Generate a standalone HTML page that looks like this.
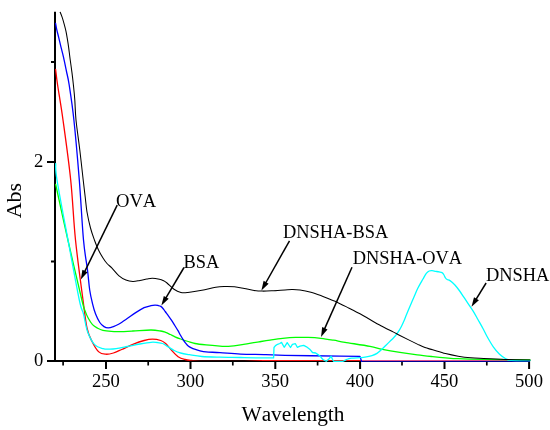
<!DOCTYPE html>
<html><head><meta charset="utf-8"><style>
html,body{margin:0;padding:0;background:#fff;width:550px;height:430px;overflow:hidden;font-family:"Liberation Serif",serif;}
svg{display:block;}
svg{will-change:transform}
text{font-kerning:none}
</style></head><body>
<svg width="550" height="430" viewBox="0 0 550 430">
<rect width="550" height="430" fill="#fff"/>
<g stroke="#000" stroke-width="2" fill="none">
<line x1="55" y1="11.7" x2="55" y2="362"/>
<line x1="47" y1="361" x2="530" y2="361"/>
<line x1="47" y1="162" x2="55" y2="162"/>
<line x1="51" y1="261.5" x2="55" y2="261.5"/>
<line x1="51" y1="62" x2="55" y2="62"/>
<line x1="106.0" y1="360" x2="106.0" y2="369"/>
<line x1="190.5" y1="360" x2="190.5" y2="369"/>
<line x1="275.3" y1="360" x2="275.3" y2="369"/>
<line x1="360.1" y1="360" x2="360.1" y2="369"/>
<line x1="444.5" y1="360" x2="444.5" y2="369"/>
<line x1="529.1" y1="360" x2="529.1" y2="369"/>
<line x1="63.1" y1="360" x2="63.1" y2="365.5" stroke-width="1.7"/>
<line x1="148.2" y1="360" x2="148.2" y2="365.5" stroke-width="1.7"/>
<line x1="232.8" y1="360" x2="232.8" y2="365.5" stroke-width="1.7"/>
<line x1="317.6" y1="360" x2="317.6" y2="365.5" stroke-width="1.7"/>
<line x1="402" y1="360" x2="402" y2="365.5" stroke-width="1.7"/>
<line x1="486.8" y1="360" x2="486.8" y2="365.5" stroke-width="1.7"/>
</g>
<g fill="none" stroke-linejoin="round" stroke-linecap="round">
<path d="M55.60,69.30 C55.93,71.92 56.37,76.55 57.60,85.00 C58.83,93.45 60.82,104.17 63.00,120.00 C65.18,135.83 68.62,160.00 70.70,180.00 C72.78,200.00 73.45,220.00 75.50,240.00 C77.55,260.00 81.08,285.33 83.00,300.00 C84.92,314.67 85.52,321.13 87.00,328.00 C88.48,334.87 89.93,337.22 91.90,341.20 C93.87,345.18 96.48,349.73 98.80,351.90 C101.12,354.07 103.37,354.02 105.80,354.20 C108.23,354.38 110.75,353.78 113.40,353.00 C116.05,352.22 118.45,350.93 121.70,349.50 C124.95,348.07 129.17,345.90 132.90,344.40 C136.63,342.90 140.85,341.38 144.10,340.50 C147.35,339.62 149.62,339.10 152.40,339.10 C155.18,339.10 158.60,339.77 160.80,340.50 C163.00,341.23 163.87,341.95 165.60,343.50 C167.33,345.05 169.12,347.60 171.20,349.80 C173.28,352.00 175.78,355.08 178.10,356.70 C180.42,358.32 182.77,358.88 185.10,359.50 C187.43,360.12 190.93,360.25 192.10,360.40" stroke="#ff0000" stroke-width="1.3"/>
<defs><linearGradient id="rg" x1="0" x2="1"><stop offset="0" stop-color="#b00000"/><stop offset="0.14" stop-color="#300000"/><stop offset="0.75" stop-color="#200000"/><stop offset="1" stop-color="#f00000"/></linearGradient></defs>
<rect x="190" y="360" width="72" height="1" fill="url(#rg)" stroke="none"/>
<rect x="262" y="360" width="99" height="1" fill="#f51010" stroke="none"/>
<rect x="361" y="360" width="169" height="1" fill="#e0508c" stroke="none"/>
<rect x="361" y="361" width="169" height="1" fill="#000096" stroke="none"/>
<path d="M55.70,184.50 C57.73,193.75 63.52,220.67 67.90,240.00 C72.28,259.33 79.13,288.68 82.00,300.50 C84.87,312.32 84.05,307.93 85.10,310.90 C86.15,313.87 87.07,316.02 88.30,318.30 C89.53,320.58 90.93,322.95 92.50,324.60 C94.07,326.25 95.97,327.25 97.70,328.20 C99.43,329.15 100.63,329.77 102.90,330.30 C105.17,330.83 108.62,331.18 111.30,331.40 C113.98,331.62 115.40,331.67 119.00,331.60 C122.60,331.53 127.57,331.27 132.90,331.00 C138.23,330.73 146.35,330.00 151.00,330.00 C155.65,330.00 158.37,330.62 160.80,331.00 C163.23,331.38 164.02,331.72 165.60,332.30 C167.18,332.88 168.73,333.75 170.30,334.50 C171.87,335.25 173.28,336.05 175.00,336.80 C176.72,337.55 178.40,338.22 180.60,339.00 C182.80,339.78 185.80,340.75 188.20,341.50 C190.60,342.25 192.03,342.93 195.00,343.50 C197.97,344.07 201.83,344.47 206.00,344.90 C210.17,345.33 216.60,345.85 220.00,346.10 C223.40,346.35 223.52,346.53 226.40,346.40 C229.28,346.27 233.67,345.77 237.30,345.30 C240.93,344.83 244.57,344.18 248.20,343.60 C251.83,343.02 255.47,342.38 259.10,341.80 C262.73,341.22 266.07,340.67 270.00,340.10 C273.93,339.53 278.45,338.85 282.70,338.40 C286.95,337.95 291.25,337.57 295.50,337.40 C299.75,337.23 303.97,337.25 308.20,337.40 C312.43,337.55 316.67,337.83 320.90,338.30 C325.13,338.77 329.58,339.53 333.60,340.20 C337.62,340.87 338.93,341.27 345.00,342.30 C351.07,343.33 363.77,345.23 370.00,346.40 C376.23,347.57 377.42,348.30 382.40,349.30 C387.38,350.30 394.08,351.47 399.90,352.40 C405.72,353.33 411.83,354.20 417.30,354.90 C422.77,355.60 428.00,356.12 432.70,356.60 C437.40,357.08 441.25,357.45 445.50,357.80 C449.75,358.15 451.85,358.43 458.20,358.70 C464.55,358.97 471.63,359.18 483.60,359.40 C495.57,359.62 522.27,359.90 530.00,360.00" stroke="#00ff00" stroke-width="1.3"/>
<path d="M55.60,23.30 C55.78,24.32 56.17,26.98 56.70,29.40 C57.23,31.82 58.08,34.85 58.80,37.80 C59.52,40.75 60.22,43.88 61.00,47.10 C61.78,50.32 62.60,53.12 63.50,57.10 C64.40,61.08 65.45,66.35 66.40,71.00 C67.35,75.65 67.95,76.83 69.20,85.00 C70.45,93.17 72.22,104.17 73.90,120.00 C75.58,135.83 77.70,160.00 79.30,180.00 C80.90,200.00 82.13,225.00 83.50,240.00 C84.87,255.00 86.47,261.67 87.50,270.00 C88.53,278.33 88.87,284.40 89.70,290.00 C90.53,295.60 91.52,299.58 92.50,303.60 C93.48,307.62 94.38,310.95 95.60,314.10 C96.82,317.25 98.40,320.42 99.80,322.50 C101.20,324.58 102.60,325.70 104.00,326.60 C105.40,327.50 106.63,327.90 108.20,327.90 C109.77,327.90 111.67,327.22 113.40,326.60 C115.13,325.98 116.52,325.38 118.60,324.20 C120.68,323.02 123.05,321.43 125.90,319.50 C128.75,317.57 132.67,314.57 135.70,312.60 C138.73,310.63 141.55,308.87 144.10,307.70 C146.65,306.53 149.18,306.03 151.00,305.60 C152.82,305.17 153.83,305.12 155.00,305.10 C156.17,305.08 157.03,305.28 158.00,305.50 C158.97,305.72 159.97,305.90 160.80,306.40 C161.63,306.90 162.27,307.65 163.00,308.50 C163.73,309.35 164.30,310.28 165.20,311.50 C166.10,312.72 167.33,314.32 168.40,315.80 C169.47,317.28 170.53,318.78 171.60,320.40 C172.67,322.02 173.73,323.78 174.80,325.50 C175.87,327.22 177.05,329.07 178.00,330.70 C178.95,332.33 179.65,333.82 180.50,335.30 C181.35,336.78 182.25,338.30 183.10,339.60 C183.95,340.90 184.75,342.03 185.60,343.10 C186.45,344.17 187.23,345.20 188.20,346.00 C189.17,346.80 190.33,347.37 191.40,347.90 C192.47,348.43 193.17,348.72 194.60,349.20 C196.03,349.68 198.10,350.35 200.00,350.80 C201.90,351.25 202.67,351.60 206.00,351.90 C209.33,352.20 214.25,352.23 220.00,352.60 C225.75,352.97 232.85,353.77 240.50,354.10 C248.15,354.43 258.48,354.38 265.90,354.60 C273.32,354.82 272.65,355.15 285.00,355.40 C297.35,355.65 330.83,355.98 340.00,356.10 L360.00,356.40 L361.50,361.30" stroke="#0000ff" stroke-width="1.3"/>
<path d="M55.70,163.60 C55.92,166.33 54.95,167.27 57.00,180.00 C59.05,192.73 64.28,220.00 68.00,240.00 C71.72,260.00 76.72,287.67 79.30,300.00 C81.88,312.33 82.10,308.67 83.50,314.00 C84.90,319.33 85.85,326.90 87.70,332.00 C89.55,337.10 92.05,341.83 94.60,344.60 C97.15,347.37 100.43,347.85 103.00,348.60 C105.57,349.35 107.80,349.10 110.00,349.10 C112.20,349.10 113.32,349.03 116.20,348.60 C119.08,348.17 123.35,347.27 127.30,346.50 C131.25,345.73 135.95,344.70 139.90,344.00 C143.85,343.30 148.15,342.55 151.00,342.30 C153.85,342.05 155.05,342.30 157.00,342.50 C158.95,342.70 160.90,342.82 162.70,343.50 C164.50,344.18 165.88,345.43 167.80,346.60 C169.72,347.77 172.07,349.43 174.20,350.50 C176.33,351.57 178.05,352.30 180.60,353.00 C183.15,353.70 185.95,354.12 189.50,354.70 C193.05,355.28 196.82,356.08 201.90,356.50 C206.98,356.92 213.57,357.03 220.00,357.20 C226.43,357.37 233.92,357.38 240.50,357.50 C247.08,357.62 253.98,357.83 259.50,357.90 C265.02,357.97 271.25,357.90 273.60,357.90 L274.00,347.50 L275.50,345.60 L277.60,344.30 L279.80,343.50 L281.50,342.40 L284.20,347.30 L287.20,342.60 L290.50,347.50 L292.40,344.30 L295.40,343.70 L297.30,347.30 L300.00,346.20 L303.70,345.40 L306.50,346.80 L309.70,349.20 L312.50,352.50 L315.70,353.00 L318.00,354.60 L320.20,356.30 L322.90,359.50 L326.20,361.30 L328.90,359.00 L331.10,356.30 L332.70,359.80 L333.80,361.30 L343.10,361.30 L345.30,360.10 C345.75,359.92 346.92,359.32 348.00,359.00 C349.08,358.68 349.80,358.42 351.80,358.20 C353.80,357.98 357.80,357.87 360.00,357.70 C362.20,357.53 363.00,357.55 365.00,357.20 C367.00,356.85 370.00,356.23 372.00,355.60 C374.00,354.97 375.27,354.53 377.00,353.40 C378.73,352.27 380.90,350.17 382.40,348.80 C383.90,347.43 384.75,346.43 386.00,345.20 C387.25,343.97 388.63,342.65 389.90,341.40 C391.17,340.15 392.50,338.88 393.60,337.70 C394.70,336.52 395.57,335.53 396.50,334.30 C397.43,333.07 398.37,331.65 399.20,330.30 C400.03,328.95 400.73,327.72 401.50,326.20 C402.27,324.68 403.05,322.93 403.80,321.20 C404.55,319.47 405.22,317.70 406.00,315.80 C406.78,313.90 407.62,311.90 408.50,309.80 C409.38,307.70 410.37,305.38 411.30,303.20 C412.23,301.02 413.02,299.18 414.10,296.70 C415.18,294.22 416.35,291.20 417.80,288.30 C419.25,285.40 421.38,281.78 422.80,279.30 C424.22,276.82 425.23,274.78 426.30,273.40 C427.37,272.02 428.23,271.45 429.20,271.00 C430.17,270.55 431.03,270.65 432.10,270.70 C433.17,270.75 434.43,271.10 435.60,271.30 C436.77,271.50 438.03,271.68 439.10,271.90 C440.17,272.12 441.23,272.17 442.00,272.60 C442.77,273.03 443.12,273.60 443.70,274.50 C444.28,275.40 444.92,277.17 445.50,278.00 C446.08,278.83 446.45,279.07 447.20,279.50 C447.95,279.93 448.75,279.73 450.00,280.60 C451.25,281.47 453.15,283.05 454.70,284.70 C456.25,286.35 457.75,288.38 459.30,290.50 C460.85,292.62 462.45,295.08 464.00,297.40 C465.55,299.72 467.05,302.07 468.60,304.40 C470.15,306.73 471.75,308.88 473.30,311.40 C474.85,313.92 476.27,316.60 477.90,319.50 C479.53,322.40 481.55,325.92 483.10,328.80 C484.65,331.68 485.50,333.78 487.20,336.80 C488.90,339.82 491.28,344.03 493.30,346.90 C495.32,349.77 497.28,352.07 499.30,354.00 C501.32,355.93 503.45,357.45 505.40,358.50 C507.35,359.55 506.90,359.95 511.00,360.30 C515.10,360.65 526.83,360.55 530.00,360.60" stroke="#00ffff" stroke-width="1.3"/>
<path d="M60.20,12.20 C60.53,13.05 61.55,15.37 62.20,17.30 C62.85,19.23 63.47,21.47 64.10,23.80 C64.73,26.13 65.47,28.82 66.00,31.30 C66.53,33.78 66.87,36.07 67.30,38.70 C67.73,41.33 68.13,43.72 68.60,47.10 C69.07,50.48 69.53,54.70 70.10,59.00 C70.67,63.30 71.45,68.57 72.00,72.90 C72.55,77.23 72.93,80.48 73.40,85.00 C73.87,89.52 74.37,94.17 74.80,100.00 C75.23,105.83 75.17,111.67 76.00,120.00 C76.83,128.33 78.60,140.00 79.80,150.00 C81.00,160.00 82.30,172.17 83.20,180.00 C84.10,187.83 84.57,191.67 85.20,197.00 C85.83,202.33 86.12,206.83 87.00,212.00 C87.88,217.17 89.27,223.33 90.50,228.00 C91.73,232.67 93.07,236.33 94.40,240.00 C95.73,243.67 97.07,247.00 98.50,250.00 C99.93,253.00 101.58,255.75 103.00,258.00 C104.42,260.25 105.50,261.82 107.00,263.50 C108.50,265.18 110.00,266.05 112.00,268.10 C114.00,270.15 116.68,273.82 119.00,275.80 C121.32,277.78 123.58,279.07 125.90,280.00 C128.22,280.93 130.57,281.33 132.90,281.40 C135.23,281.47 137.57,280.80 139.90,280.40 C142.23,280.00 144.82,279.35 146.90,279.00 C148.98,278.65 150.32,278.25 152.40,278.30 C154.48,278.35 157.63,278.93 159.40,279.30 C161.17,279.67 161.73,279.88 163.00,280.50 C164.27,281.12 165.17,281.53 167.00,283.00 C168.83,284.47 171.68,287.73 174.00,289.30 C176.32,290.87 178.58,291.88 180.90,292.40 C183.22,292.92 184.40,292.75 187.90,292.40 C191.40,292.05 197.25,291.17 201.90,290.30 C206.55,289.43 211.98,287.83 215.80,287.20 C219.62,286.57 221.68,286.57 224.80,286.50 C227.92,286.43 231.25,286.47 234.50,286.80 C237.75,287.13 241.03,287.90 244.30,288.50 C247.57,289.10 251.12,289.97 254.10,290.40 C257.08,290.83 259.22,291.03 262.20,291.10 C265.18,291.17 268.20,291.00 272.00,290.80 C275.80,290.60 281.67,290.12 285.00,289.90 C288.33,289.68 289.50,289.50 292.00,289.50 C294.50,289.50 296.85,289.45 300.00,289.90 C303.15,290.35 307.27,291.18 310.90,292.20 C314.53,293.22 318.53,294.77 321.80,296.00 C325.07,297.23 327.95,298.57 330.50,299.60 C333.05,300.63 334.00,300.77 337.10,302.20 C340.20,303.63 345.28,306.27 349.10,308.20 C352.92,310.13 356.82,312.08 360.00,313.80 C363.18,315.52 364.72,316.52 368.20,318.50 C371.68,320.48 376.67,323.43 380.90,325.70 C385.13,327.97 390.43,330.47 393.60,332.10 C396.77,333.73 395.95,333.50 399.90,335.50 C403.85,337.50 413.12,342.08 417.30,344.10 C421.48,346.12 422.43,346.65 425.00,347.60 C427.57,348.55 429.28,348.80 432.70,349.80 C436.12,350.80 441.25,352.53 445.50,353.60 C449.75,354.67 453.97,355.50 458.20,356.20 C462.43,356.90 466.67,357.42 470.90,357.80 C475.13,358.18 477.85,358.23 483.60,358.50 C489.35,358.77 497.67,359.15 505.40,359.40 C513.13,359.65 525.90,359.90 530.00,360.00" stroke="#000" stroke-width="1.05"/>
</g>
<line x1="117.2" y1="205.1" x2="84.1" y2="272.9" stroke="#000" stroke-width="1.5"/><polygon points="80.8,279.6 82.4,269.8 87.6,272.3" fill="#000"/>
<line x1="184" y1="267.5" x2="165.2" y2="299.1" stroke="#000" stroke-width="1.5"/><polygon points="161.4,305.5 163.8,295.9 168.7,298.8" fill="#000"/>
<line x1="289.5" y1="240.8" x2="265.1" y2="284.0" stroke="#000" stroke-width="1.5"/><polygon points="261.4,290.5 263.6,280.8 268.6,283.7" fill="#000"/>
<line x1="352" y1="267.2" x2="324.0" y2="330.1" stroke="#000" stroke-width="1.5"/><polygon points="321,337 322.2,327.1 327.5,329.5" fill="#000"/>
<line x1="486.1" y1="283" x2="475.4" y2="300.4" stroke="#000" stroke-width="1.5"/><polygon points="471.5,306.8 474.0,297.2 478.9,300.2" fill="#000"/>
<g font-family="Liberation Serif, serif" fill="#000" font-size="18">
<text x="105.9" y="387.4" font-size="18.6" text-anchor="middle">250</text>
<text x="190.4" y="387.4" font-size="18.6" text-anchor="middle">300</text>
<text x="275.2" y="387.4" font-size="18.6" text-anchor="middle">350</text>
<text x="360" y="387.4" font-size="18.6" text-anchor="middle">400</text>
<text x="444.4" y="387.4" font-size="18.6" text-anchor="middle">450</text>
<text x="529" y="387.4" font-size="18.6" text-anchor="middle">500</text>
<text x="43.4" y="366.1" font-size="18.6" text-anchor="end">0</text>
<text x="43.2" y="166.7" font-size="18.6" text-anchor="end">2</text>
</g>
<g font-family="Liberation Serif, serif" fill="#000" font-size="18.4">
<text x="183.5" y="267.6">BSA</text>
<text x="283" y="237.9">DNSHA-BSA</text>
<text x="352.8" y="263.6">DNSHA-OVA</text>
<text x="486" y="280.9">DNSHA</text>
</g>
<text font-family="Liberation Serif, serif" fill="#000" font-size="18.6" x="116" y="206.8">OVA</text>
<text font-family="Liberation Serif, serif" fill="#000" font-size="21.3" x="293" y="420.7" text-anchor="middle">Wavelength</text>
<text font-family="Liberation Serif, serif" fill="#000" font-size="22" transform="translate(21.3,200.6) rotate(-90)" text-anchor="middle">Abs</text>
</svg>
</body></html>
